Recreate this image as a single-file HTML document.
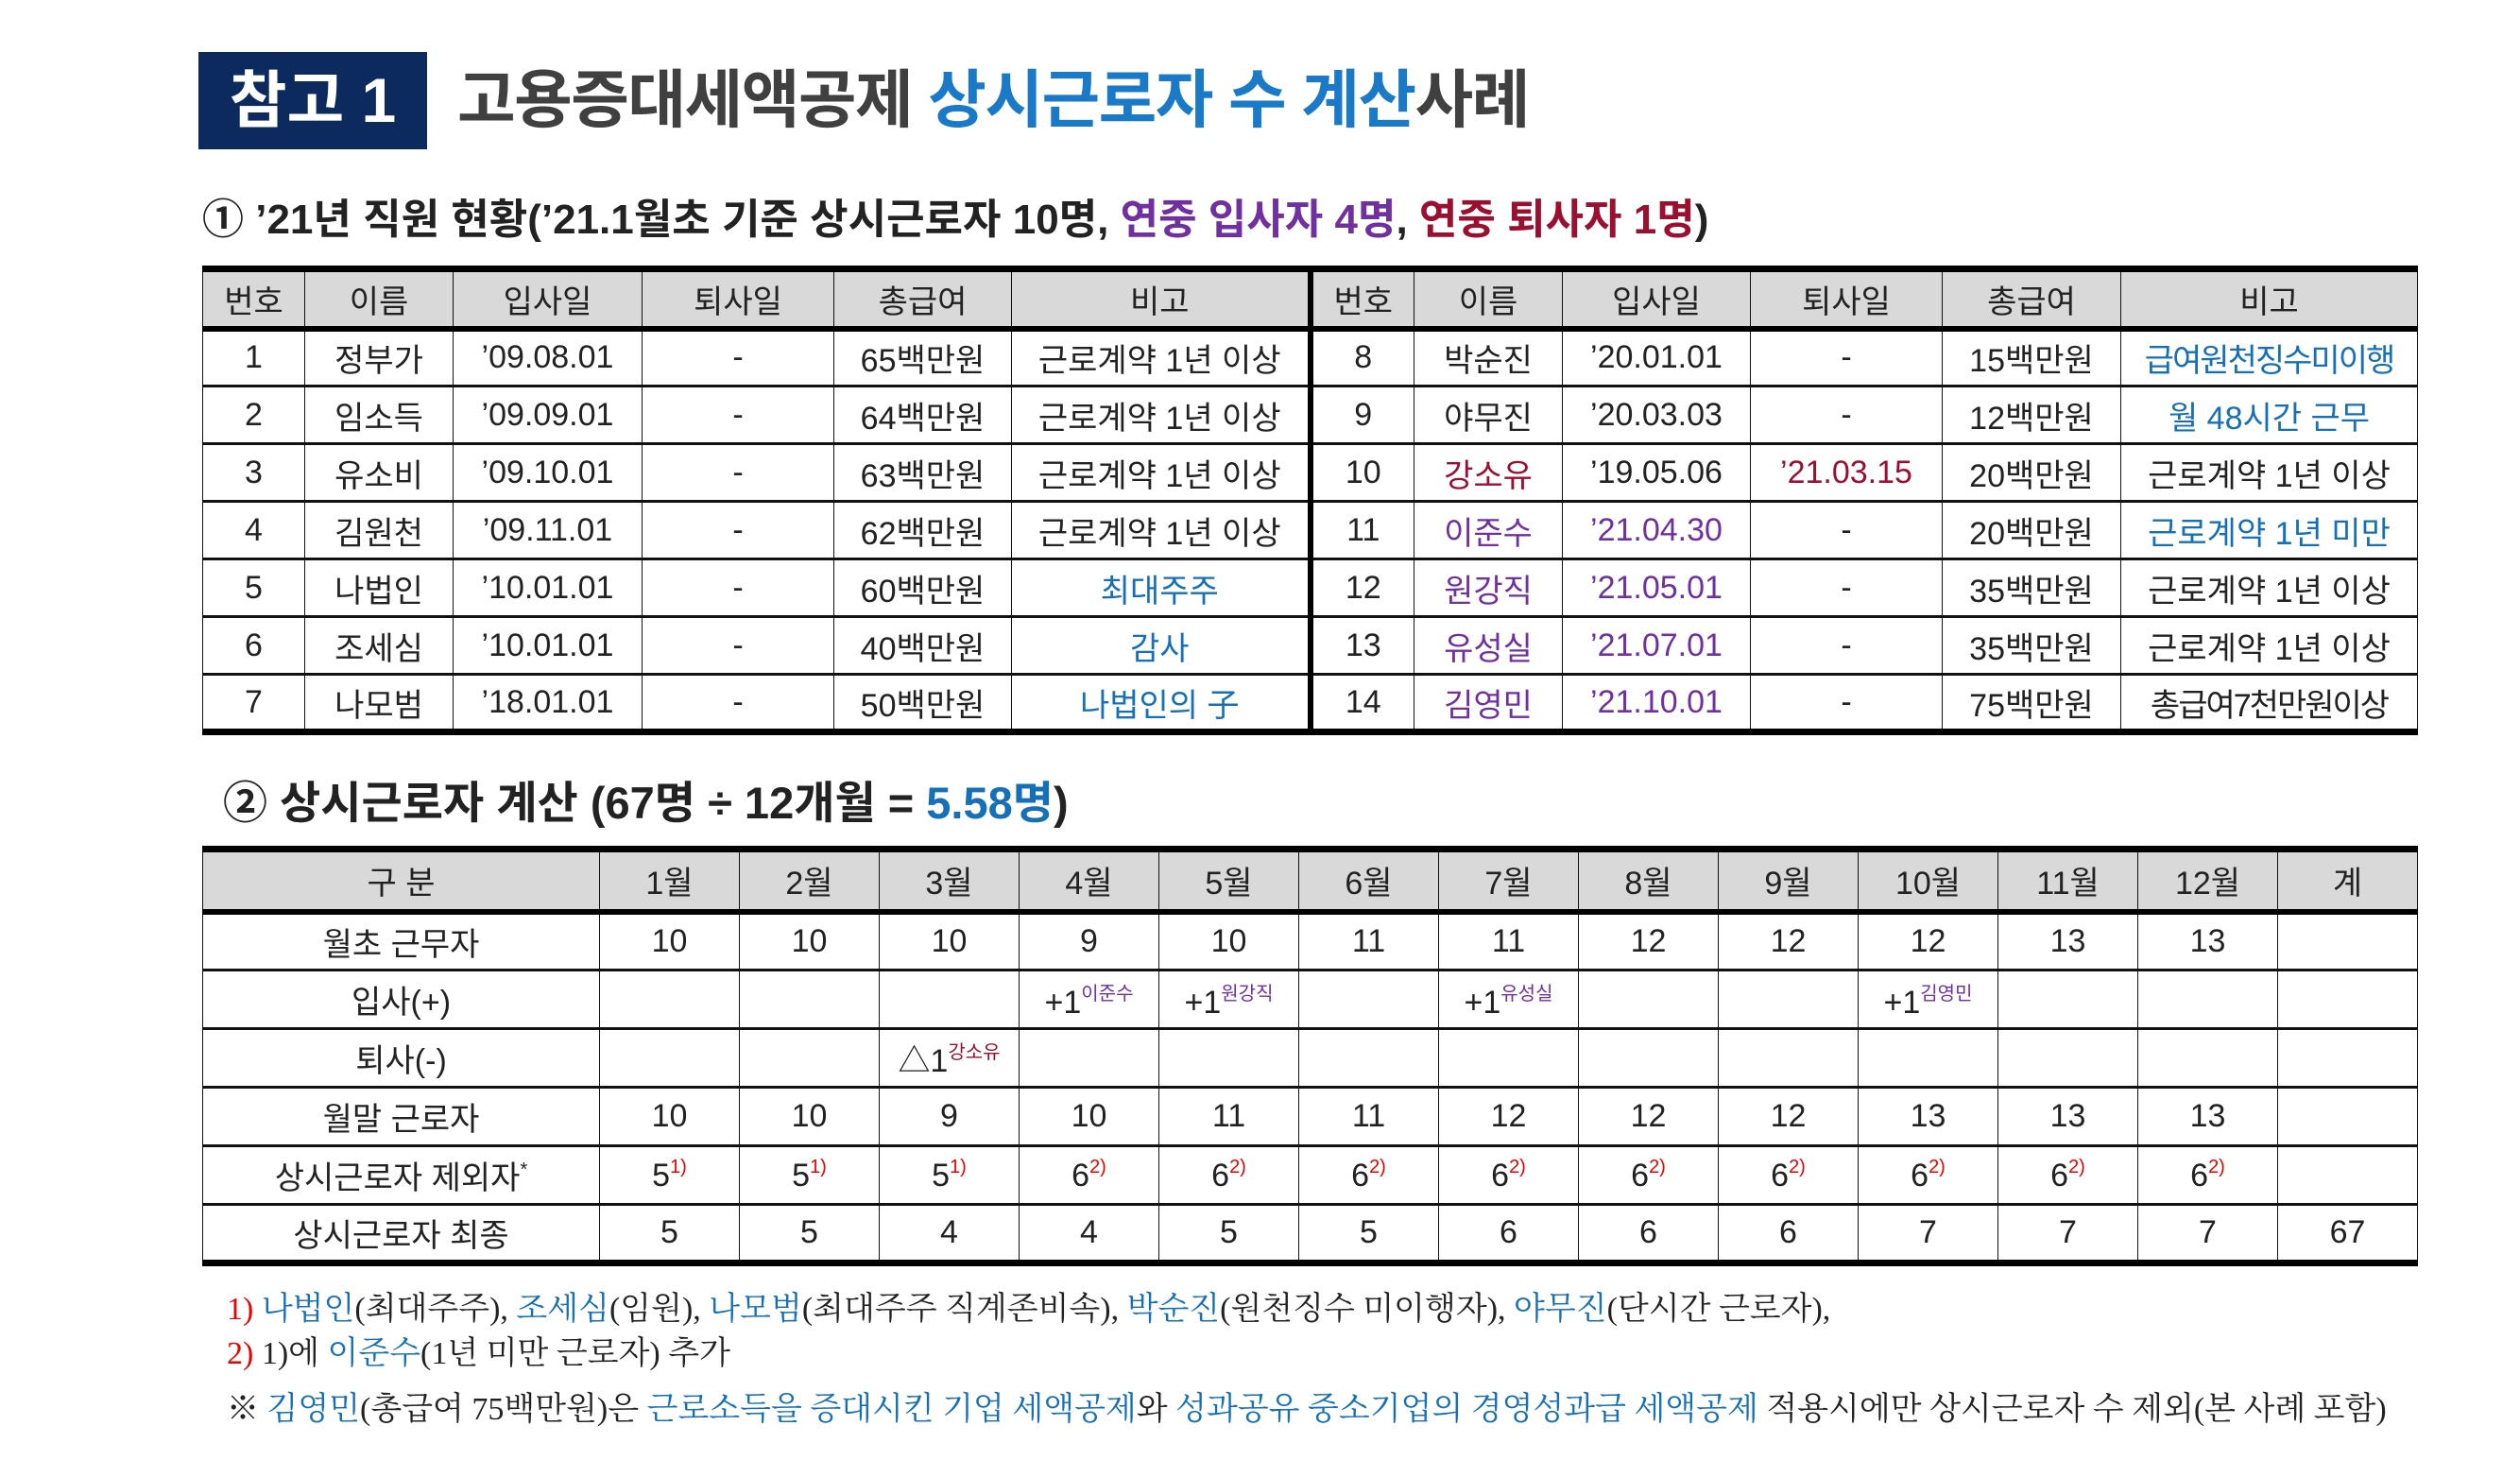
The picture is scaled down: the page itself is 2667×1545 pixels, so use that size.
<!DOCTYPE html>
<html><head><meta charset="utf-8"><style>
body{margin:0;width:2667px;height:1545px;background:#fff;position:relative;overflow:hidden;font-family:"Liberation Sans","Noto Sans CJK KR",sans-serif;color:#222}
.abs{position:absolute}
table{border-collapse:collapse;table-layout:fixed;position:absolute}
td{text-align:center;vertical-align:middle;border:1.5px solid #111;border-top:3px solid #111;font-size:34px;padding:0;white-space:nowrap;overflow:visible}
tr.h td{background:#d9d9d9;border-top:7px solid #000;border-bottom:6px solid #000}
tr.last td{border-bottom:7px solid #000}
td.sep{border-left:6px solid #000}
td:first-child{border-left:1.5px solid #111}
.b{color:#1670b8}.p{color:#7030a0}.r{color:#9b1030}.rd{color:#e00}
sup{font-size:20px;vertical-align:14px}
</style></head><body>
<div class="abs" style="left:210px;top:55px;width:242px;height:103px;background:#0d2a5e;color:#fff;font-weight:bold;font-size:66px;line-height:103px;text-align:center">참고 1</div>
<div class="abs" style="left:484px;top:57px;font-size:67px;font-weight:bold;line-height:100px;color:#404040;letter-spacing:-1.5px">고용증대세액공제 <span style="color:#1a7ac8">상시근로자 수 계산</span>사례</div>
<div class="abs" style="left:214px;top:205px;font-size:44px;font-weight:bold;line-height:56px;color:#222">① ’21년 직원 현황(’21.1월초 기준 상시근로자 10명, <span class="p">연중 입사자 4명</span>, <span class="r">연중 퇴사자 1명</span>)</div>

<table style="left:214px;top:281px;width:2344px">
<colgroup><col style="width:108px"><col style="width:157px"><col style="width:200px"><col style="width:203px"><col style="width:188px"><col style="width:316px"><col style="width:110px"><col style="width:157px"><col style="width:199px"><col style="width:203px"><col style="width:189px"><col style="width:314px"></colgroup>
<tr class="h" style="height:63px"><td>번호</td><td>이름</td><td>입사일</td><td>퇴사일</td><td>총급여</td><td>비고</td><td class="sep">번호</td><td>이름</td><td>입사일</td><td>퇴사일</td><td>총급여</td><td>비고</td></tr>
<tr style="height:61px"><td>1</td><td>정부가</td><td>’09.08.01</td><td>-</td><td>65백만원</td><td>근로계약 1년 이상</td><td class="sep">8</td><td>박순진</td><td>’20.01.01</td><td>-</td><td>15백만원</td><td class="b" style="letter-spacing:-2px">급여원천징수미이행</td></tr>
<tr style="height:61px"><td>2</td><td>임소득</td><td>’09.09.01</td><td>-</td><td>64백만원</td><td>근로계약 1년 이상</td><td class="sep">9</td><td>야무진</td><td>’20.03.03</td><td>-</td><td>12백만원</td><td class="b">월 48시간 근무</td></tr>
<tr style="height:61px"><td>3</td><td>유소비</td><td>’09.10.01</td><td>-</td><td>63백만원</td><td>근로계약 1년 이상</td><td class="sep">10</td><td class="r">강소유</td><td>’19.05.06</td><td class="r">’21.03.15</td><td>20백만원</td><td>근로계약 1년 이상</td></tr>
<tr style="height:61px"><td>4</td><td>김원천</td><td>’09.11.01</td><td>-</td><td>62백만원</td><td>근로계약 1년 이상</td><td class="sep">11</td><td class="p">이준수</td><td class="p">’21.04.30</td><td>-</td><td>20백만원</td><td class="b">근로계약 1년 미만</td></tr>
<tr style="height:61px"><td>5</td><td>나법인</td><td>’10.01.01</td><td>-</td><td>60백만원</td><td class="b">최대주주</td><td class="sep">12</td><td class="p">원강직</td><td class="p">’21.05.01</td><td>-</td><td>35백만원</td><td>근로계약 1년 이상</td></tr>
<tr style="height:61px"><td>6</td><td>조세심</td><td>’10.01.01</td><td>-</td><td>40백만원</td><td class="b">감사</td><td class="sep">13</td><td class="p">유성실</td><td class="p">’21.07.01</td><td>-</td><td>35백만원</td><td>근로계약 1년 이상</td></tr>
<tr class="last" style="height:61px"><td>7</td><td>나모범</td><td>’18.01.01</td><td>-</td><td>50백만원</td><td class="b">나법인의 子</td><td class="sep">14</td><td class="p">김영민</td><td class="p">’21.10.01</td><td>-</td><td>75백만원</td><td style="letter-spacing:-2px">총급여7천만원이상</td></tr>
</table>

<div class="abs" style="left:236px;top:820px;font-size:47px;font-weight:bold;line-height:60px;color:#222">② 상시근로자 계산 (67명 ÷ 12개월 = <span class="b">5.58명</span>)</div>

<table style="left:214px;top:895px;width:2344px">
<colgroup><col style="width:420px"><col span="13" style="width:148px"></colgroup>
<tr class="h" style="height:66px"><td>구 분</td><td>1월</td><td>2월</td><td>3월</td><td>4월</td><td>5월</td><td>6월</td><td>7월</td><td>8월</td><td>9월</td><td>10월</td><td>11월</td><td>12월</td><td>계</td></tr>
<tr style="height:62px"><td>월초 근무자</td><td>10</td><td>10</td><td>10</td><td>9</td><td>10</td><td>11</td><td>11</td><td>12</td><td>12</td><td>12</td><td>13</td><td>13</td><td></td></tr>
<tr style="height:62px"><td>입사(+)</td><td></td><td></td><td></td><td>+1<sup class="p">이준수</sup></td><td>+1<sup class="p">원강직</sup></td><td></td><td>+1<sup class="p">유성실</sup></td><td></td><td></td><td>+1<sup class="p">김영민</sup></td><td></td><td></td><td></td></tr>
<tr style="height:62px"><td>퇴사(-)</td><td></td><td></td><td>△1<sup class="r">강소유</sup></td><td></td><td></td><td></td><td></td><td></td><td></td><td></td><td></td><td></td><td></td></tr>
<tr style="height:62px"><td>월말 근로자</td><td>10</td><td>10</td><td>9</td><td>10</td><td>11</td><td>11</td><td>12</td><td>12</td><td>12</td><td>13</td><td>13</td><td>13</td><td></td></tr>
<tr style="height:62px"><td>상시근로자 제외자<sup>*</sup></td><td>5<sup class="rd">1)</sup></td><td>5<sup class="rd">1)</sup></td><td>5<sup class="rd">1)</sup></td><td>6<sup class="rd">2)</sup></td><td>6<sup class="rd">2)</sup></td><td>6<sup class="rd">2)</sup></td><td>6<sup class="rd">2)</sup></td><td>6<sup class="rd">2)</sup></td><td>6<sup class="rd">2)</sup></td><td>6<sup class="rd">2)</sup></td><td>6<sup class="rd">2)</sup></td><td>6<sup class="rd">2)</sup></td><td></td></tr>
<tr class="last" style="height:62px"><td>상시근로자 최종</td><td>5</td><td>5</td><td>4</td><td>4</td><td>5</td><td>5</td><td>6</td><td>6</td><td>6</td><td>7</td><td>7</td><td>7</td><td>67</td></tr>
</table>

<div class="abs" style="left:240px;top:1362px;font-family:'Liberation Serif','Noto Serif CJK SC',serif;font-size:34px;line-height:47px;color:#222;letter-spacing:0px">
<div><span class="rd">1)</span> <span class="b">나법인</span>(최대주주), <span class="b">조세심</span>(임원), <span class="b">나모범</span>(최대주주 직계존비속), <span class="b">박순진</span>(원천징수 미이행자), <span class="b">야무진</span>(단시간 근로자),</div>
<div><span class="rd">2)</span> 1)에 <span class="b">이준수</span>(1년 미만 근로자) 추가</div>
<div style="margin-top:12px">※ <span class="b">김영민</span>(총급여 75백만원)은 <span class="b">근로소득을 증대시킨 기업 세액공제</span>와 <span class="b">성과공유 중소기업의 경영성과급 세액공제</span> 적용시에만 상시근로자 수 제외(본 사례 포함)</div>
</div>
</body></html>
